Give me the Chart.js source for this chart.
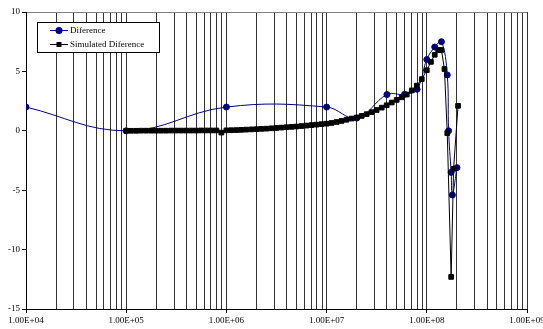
<!DOCTYPE html>
<html>
<head>
<meta charset="utf-8">
<script src="https://cdn.jsdelivr.net/npm/chart.js@4"></script>
<style>
  html, body { margin: 0; padding: 0; background: #fff; overflow: hidden; }
  #wrap { position: relative; width: 560px; height: 329px; }
</style>
</head>
<body>
<div id="wrap"><canvas id="grafico"></canvas></div>
<script>
// dados
const difFreq = [1e4, 1e5, 1e6, 1e7, 2e7, 4e7, 6e7, 8e7, 1e8, 1.2e8, 1.4e8, 1.6e8, 1.65e8, 1.75e8, 1.8e8, 2e8];
const difValores = [2, 0, 2, 2, 1.07, 3.05, 3.07, 3.5, 6.0, 7.05, 7.5, 4.7, 0, -3.5, -5.4, -3.1];

const simFreq = [
  1.00e5, 1.12e5, 1.26e5, 1.41e5, 1.58e5, 1.78e5, 2.00e5, 2.24e5, 2.51e5, 2.82e5,
  3.16e5, 3.55e5, 3.98e5, 4.47e5, 5.01e5, 5.62e5, 6.31e5, 7.08e5, 7.94e5, 8.91e5,
  1.00e6, 1.12e6, 1.26e6, 1.41e6, 1.58e6, 1.78e6, 2.00e6, 2.24e6, 2.51e6, 2.82e6,
  3.16e6, 3.55e6, 3.98e6, 4.47e6, 5.01e6, 5.62e6, 6.31e6, 7.08e6, 7.94e6, 8.91e6,
  1.00e7, 1.12e7, 1.26e7, 1.41e7, 1.58e7, 1.78e7, 2.00e7, 2.24e7, 2.51e7, 2.82e7,
  3.16e7, 3.55e7, 3.98e7, 4.47e7, 5.01e7, 5.62e7, 6.31e7, 7.08e7, 7.94e7, 8.91e7,
  1.00e8, 1.10e8, 1.20e8, 1.30e8, 1.40e8, 1.50e8, 1.60e8, 1.75e8, 1.85e8, 2.05e8
];
const simValores = [
  0.00, 0.00, 0.00, 0.01, 0.01, 0.01, 0.01, 0.01, 0.01, 0.02,
  0.02, 0.02, 0.02, 0.02, 0.02, 0.03, 0.03, 0.03, 0.03, -0.15,
  0.04, 0.05, 0.06, 0.08, 0.10, 0.12, 0.14, 0.16, 0.18, 0.21,
  0.24, 0.27, 0.30, 0.33, 0.36, 0.40, 0.44, 0.48, 0.52, 0.56,
  0.60, 0.66, 0.74, 0.83, 0.93, 1.03, 1.12, 1.25, 1.40, 1.57,
  1.75, 1.95, 2.15, 2.38, 2.60, 2.82, 3.05, 3.40, 3.80, 4.35,
  5.10, 5.80, 6.40, 6.80, 6.80, 5.20, -0.20, -12.30, -3.20, 2.10
];

const decadas = [1e4, 1e5, 1e6, 1e7, 1e8, 1e9];
const rotulosX = ['1.00E+04', '1.00E+05', '1.00E+06', '1.00E+07', '1.00E+08', '1.00E+09'];
const rotulosSerie = ['Diference', 'Simulated Diference'];

const fonte = { family: "'Liberation Serif', 'Times New Roman', serif", size: 9 };

// linhas de grade: 1..9 x 10^n
const gradeX = [];
decadas.forEach((d, i) => {
  if (i === decadas.length - 1) { gradeX.push(d); return; }
  for (let m = 1; m <= 9; m++) gradeX.push(d * m);
});

// legenda desenhada a mao (linha + marcador, como no Excel)
const legendaExcel = {
  id: 'legendaExcel',
  afterDraw(chart) {
    const c = chart.ctx;
    c.save();
    c.fillStyle = '#fff';
    c.fillRect(37, 22, 122, 30);
    c.strokeStyle = '#000';
    c.lineWidth = 1;
    c.strokeRect(37.5, 22.5, 122, 30);
    const linhas = [
      { y: 30.5, cor: '#000080', tipo: 'circulo' },
      { y: 44.5, cor: '#000', tipo: 'quadrado' }
    ];
    linhas.forEach((l, i) => {
      c.strokeStyle = l.cor;
      c.beginPath();
      c.moveTo(50, l.y);
      c.lineTo(68, l.y);
      c.stroke();
      c.fillStyle = l.cor;
      if (l.tipo === 'circulo') {
        c.beginPath();
        c.arc(59, l.y, 3.5, 0, Math.PI * 2);
        c.fill();
      } else {
        c.fillRect(56.5, l.y - 2.5, 5, 5);
      }
      c.fillStyle = '#000';
      c.font = fonte.size + 'px ' + fonte.family;
      c.textBaseline = 'middle';
      c.textAlign = 'left';
      c.fillText(rotulosSerie[i], 70, l.y);
    });
    c.restore();
  }
};

new Chart(document.getElementById('grafico').getContext('2d'), {
  type: 'scatter',
  data: {
    datasets: [
      {
        label: rotulosSerie[0],
        data: difFreq.map((f, i) => ({ x: f, y: difValores[i] })),
        showLine: true,
        borderColor: '#000080',
        borderWidth: 1,
        tension: 0.4,
        pointBackgroundColor: '#000080',
        pointBorderColor: '#000080',
        pointRadius: 3,
        pointBorderWidth: 1,
        order: 2
      },
      {
        label: rotulosSerie[1],
        data: simFreq.map((f, i) => ({ x: f, y: simValores[i] })),
        showLine: true,
        borderColor: '#000',
        borderWidth: 1,
        tension: 0,
        pointStyle: 'rect',
        pointBackgroundColor: '#000',
        pointBorderColor: '#000',
        pointRadius: 3.3,
        pointBorderWidth: 1,
        order: 1
      }
    ]
  },
  options: {
    responsive: true,
    maintainAspectRatio: false,
    animation: false,
    layout: { padding: { left: 0, top: 12, right: 33, bottom: 0 } },
    plugins: {
      legend: { display: false },
      tooltip: { enabled: false }
    },
    scales: {
      x: {
        type: 'logarithmic',
        min: 1e4,
        max: 1e9,
        afterBuildTicks: (eixo) => { eixo.ticks = gradeX.map(v => ({ value: v })); },
        afterFit: (eixo) => { eixo.height = 20; },
        border: { color: '#000', width: 1 },
        grid: {
          color: '#333',
          lineWidth: 1,
          tickLength: 4,
          tickColor: (ctx) => decadas.includes(ctx.tick && ctx.tick.value) ? '#000' : 'rgba(0,0,0,0)'
        },
        ticks: {
          autoSkip: false,
          maxRotation: 0,
          padding: 2,
          color: '#000',
          font: fonte,
          callback: (v) => {
            const i = decadas.indexOf(v);
            return i >= 0 ? rotulosX[i] : '';
          }
        }
      },
      y: {
        min: -15,
        max: 10,
        afterFit: (eixo) => { eixo.width = 26; },
        border: { color: '#000', width: 1 },
        grid: {
          color: (ctx) => (ctx.tick && ctx.tick.value === 10) ? '#808080' : 'rgba(0,0,0,0)',
          tickLength: 4,
          tickColor: '#000'
        },
        ticks: {
          stepSize: 5,
          padding: 2,
          color: '#000',
          font: fonte
        }
      }
    }
  },
  plugins: [legendaExcel]
});
</script>
</body>
</html>
